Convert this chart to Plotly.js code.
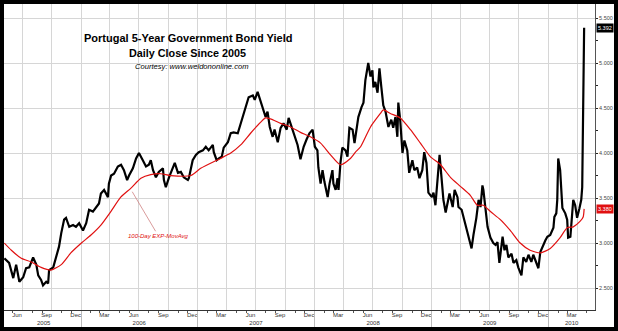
<!DOCTYPE html>
<html><head><meta charset="utf-8">
<script src="https://cdn.plot.ly/plotly-3.0.1.min.js"></script>
<style>
html,body{margin:0;padding:0;background:#000;width:618px;height:331px;overflow:hidden;}
#chart{position:absolute;left:4px;top:4px;width:610px;height:323px;background:#fff;}
</style></head><body><div id="chart"></div>
<script>
// Portugal 5-Year Government Bond Yield, daily close
const yieldDates = ['2005-05-06','2005-05-21','2005-06-03','2005-06-12','2005-06-22','2005-07-04','2005-07-13','2005-07-23','2005-08-04','2005-08-14','2005-08-20','2005-08-29','2005-09-04','2005-09-14','2005-09-20','2005-09-23','2005-10-06','2005-10-15','2005-10-24','2005-10-31','2005-11-09','2005-11-15','2005-11-25','2005-12-07','2005-12-16','2005-12-26',
'2006-01-07','2006-01-17','2006-01-26','2006-02-07','2006-02-17','2006-02-26','2006-03-04','2006-03-14','2006-03-26','2006-03-29','2006-04-05','2006-04-14','2006-04-26','2006-05-06','2006-05-15','2006-05-25','2006-05-31','2006-06-12','2006-06-22','2006-07-01','2006-07-13','2006-07-23','2006-08-01','2006-08-07','2006-08-14','2006-08-23','2006-09-01','2006-09-14','2006-09-17','2006-09-23','2006-10-03','2006-10-15','2006-10-21','2006-10-31','2006-11-09','2006-11-18','2006-12-01','2006-12-04','2006-12-16','2006-12-26',
'2007-01-04','2007-01-17','2007-01-26','2007-02-04','2007-02-17','2007-02-20','2007-03-01','2007-03-08','2007-03-17','2007-03-23','2007-04-05','2007-04-14','2007-04-23','2007-05-06','2007-05-12','2007-05-21','2007-05-31','2007-06-09','2007-06-22','2007-06-28','2007-07-07','2007-07-13','2007-07-23','2007-08-01','2007-08-07','2007-08-14','2007-08-23','2007-08-29','2007-09-08','2007-09-17','2007-09-26','2007-10-06','2007-10-12','2007-10-24','2007-10-31','2007-11-09','2007-11-18','2007-11-28','2007-12-07','2007-12-16','2007-12-26',
'2008-01-02','2008-01-10','2008-01-13','2008-01-20','2008-01-26','2008-02-01','2008-02-11','2008-02-17','2008-02-26','2008-02-29','2008-03-07','2008-03-13','2008-03-16','2008-03-22','2008-03-28','2008-04-07','2008-04-13','2008-04-19','2008-04-29','2008-05-05','2008-05-11','2008-05-17','2008-05-27','2008-06-02','2008-06-08','2008-06-14','2008-06-17','2008-06-24','2008-06-30','2008-07-03','2008-07-09','2008-07-16','2008-07-22','2008-07-28','2008-08-03','2008-08-10','2008-08-16','2008-08-19','2008-08-28','2008-09-03','2008-09-10','2008-09-16','2008-09-19','2008-09-25','2008-10-02','2008-10-08','2008-10-17','2008-10-23','2008-11-02','2008-11-08','2008-11-17','2008-11-24','2008-12-03','2008-12-09','2008-12-16','2008-12-22',
'2009-01-02','2009-01-07','2009-01-13','2009-01-20','2009-01-26','2009-02-01','2009-02-07','2009-02-14','2009-02-20','2009-02-26','2009-03-08','2009-03-14','2009-03-23','2009-03-26','2009-04-05','2009-04-11','2009-04-20','2009-04-26','2009-05-06','2009-05-12','2009-05-21','2009-05-28','2009-06-03','2009-06-09','2009-06-12','2009-06-18','2009-06-25','2009-07-04','2009-07-13','2009-07-20','2009-07-26','2009-08-01','2009-08-11','2009-08-17','2009-08-23','2009-08-29','2009-09-08','2009-09-14','2009-09-23','2009-09-29','2009-10-09','2009-10-15','2009-10-24','2009-10-31','2009-11-09','2009-11-15','2009-11-25','2009-12-01','2009-12-07','2009-12-16','2009-12-23','2009-12-29',
'2010-01-07','2010-01-17','2010-01-20','2010-01-26','2010-01-29','2010-02-01','2010-02-07','2010-02-14','2010-02-17','2010-02-23','2010-03-01','2010-03-04','2010-03-11','2010-03-17','2010-03-20','2010-03-26','2010-04-01','2010-04-08','2010-04-14','2010-04-17','2010-04-20','2010-04-23'];
const yieldValues = [2.83,2.78,2.61,2.76,2.57,2.62,2.72,2.73,2.84,2.76,2.64,2.59,2.53,2.57,2.55,2.70,2.73,2.85,2.96,3.11,3.26,3.28,3.18,3.20,3.18,3.22,
3.14,3.22,3.37,3.35,3.40,3.44,3.55,3.59,3.51,3.66,3.75,3.77,3.85,3.87,3.81,3.70,3.75,3.83,3.94,4.00,3.92,3.85,3.87,3.92,3.81,3.73,3.79,3.83,3.70,3.62,3.73,3.83,3.89,3.78,3.79,3.73,3.70,3.72,3.92,3.98,
4.01,4.03,4.07,4.03,4.09,4.01,3.92,3.94,3.96,4.06,4.12,4.22,4.23,4.22,4.29,4.39,4.50,4.62,4.64,4.59,4.68,4.61,4.50,4.40,4.46,4.29,4.18,4.26,4.12,4.28,4.33,4.26,4.39,4.26,4.17,4.09,3.93,4.07,4.15,4.22,4.26,
4.07,4.03,3.84,3.66,3.81,3.68,3.51,3.66,3.81,3.66,3.59,3.72,3.59,3.89,4.06,4.03,3.96,4.28,4.26,4.11,4.29,4.40,4.51,4.56,4.81,4.96,5.00,4.85,4.92,4.73,4.79,4.67,4.94,4.73,4.53,4.46,4.33,4.29,4.37,4.28,4.40,4.18,4.56,4.36,4.00,4.14,4.03,3.78,3.92,3.81,3.84,3.72,3.81,4.01,3.89,3.56,
3.51,3.56,3.42,3.78,3.98,3.73,3.48,3.34,3.44,3.55,3.40,3.59,3.51,3.40,3.37,3.29,3.18,3.09,2.94,3.09,3.28,3.48,3.40,3.64,3.59,3.40,3.18,3.06,3.00,2.98,3.01,2.78,3.07,2.92,2.98,2.84,2.88,2.78,2.81,2.73,2.64,2.84,2.79,2.87,2.79,2.87,2.78,2.72,2.90,2.98,3.03,3.07,
3.09,3.17,3.29,3.33,3.48,3.94,3.81,3.39,3.37,3.33,3.26,3.06,3.07,3.40,3.48,3.42,3.28,3.38,3.48,3.62,4.28,5.392];

// 100-Day exponential moving average
const emaDates = ['2005-05-06','2005-05-28','2005-06-28','2005-07-29','2005-08-29','2005-09-29','2005-10-31','2005-11-30','2006-01-02','2006-02-01','2006-03-04','2006-04-04','2006-05-05','2006-06-06','2006-07-07','2006-08-07','2006-09-07','2006-10-08','2006-12-10','2007-01-10','2007-03-13','2007-04-14','2007-05-15','2007-06-15','2007-07-16','2007-08-01','2007-08-16','2007-09-17','2007-10-18','2007-11-18','2007-12-19','2008-01-20','2008-02-20','2008-03-22','2008-04-22','2008-05-08','2008-05-24','2008-06-24','2008-07-25','2008-08-03','2008-08-25','2008-09-25','2008-10-27','2008-11-27','2008-12-28','2009-01-29','2009-03-01','2009-04-01','2009-05-02','2009-05-24','2009-06-12','2009-07-04','2009-08-04','2009-09-04','2009-10-05','2009-11-05','2009-12-07','2010-01-07','2010-02-07','2010-03-01','2010-03-20','2010-04-10','2010-04-20','2010-04-23'];
const emaValues = [3.00,2.92,2.83,2.79,2.73,2.70,2.76,2.89,3.00,3.09,3.20,3.35,3.51,3.61,3.72,3.76,3.77,3.75,3.75,3.83,3.94,4.00,4.09,4.22,4.34,4.39,4.38,4.33,4.29,4.23,4.18,4.11,3.98,3.87,3.94,4.01,4.07,4.29,4.44,4.48,4.44,4.39,4.26,4.11,3.96,3.87,3.73,3.63,3.53,3.42,3.42,3.35,3.26,3.14,3.00,2.92,2.89,2.94,3.06,3.17,3.18,3.24,3.29,3.38];

// axis labels
const monthTickDates = ['2005-06-15','2005-09-15','2005-12-15','2006-03-15','2006-06-15','2006-09-15','2006-12-15','2007-03-15','2007-06-15','2007-09-15','2007-12-15','2008-03-15','2008-06-15','2008-09-15','2008-12-15','2009-03-15','2009-06-15','2009-09-15','2009-12-15','2010-03-15'];
const monthTickText = ['Jun','Sep','Dec','Mar','Jun','Sep','Dec','Mar','Jun','Sep','Dec','Mar','Jun','Sep','Dec','Mar','Jun','Sep','Dec','Mar'];
const yearTickDates = ['2005-09-06','2006-07-02','2007-07-02','2008-07-02','2009-07-02','2010-03-15'];
const yearTickText = ['2005','2006','2007','2008','2009','2010'];
const yearStartDates = ['2006-01-01','2007-01-01','2008-01-01','2009-01-01','2010-01-01'];

const FONT = 'Liberation Sans, Arial, sans-serif';
const xRange = ['2005-05-05','2010-05-27'];
const yRange = [2.256, 5.656];
const GRID = '#d6d6d6';

const traces = [
  {x: yieldDates, y: yieldValues, type:'scatter', mode:'lines', line:{color:'#000', width:2.2}, hoverinfo:'skip'},
  {x: emaDates, y: emaValues, type:'scatter', mode:'lines', line:{color:'#e01010', width:1.2, shape:'spline', smoothing:0.6}, hoverinfo:'skip'},
  {x: [], y: [], xaxis:'x2', yaxis:'y', type:'scatter', hoverinfo:'skip'},
  {x: [], y: [], xaxis:'x3', yaxis:'y', type:'scatter', hoverinfo:'skip'},
  {x: [], y: [], xaxis:'x4', yaxis:'y', type:'scatter', hoverinfo:'skip'}
];

const lastYield = yieldValues[yieldValues.length-1];
const lastEma = emaValues[emaValues.length-1];

const layout = {
  width:610, height:323,
  margin:{l:0, r:19, t:0, b:17},
  paper_bgcolor:'#fff', plot_bgcolor:'#fff', showlegend:false,
  font:{family:FONT, size:6, color:'#333'},
  xaxis:{type:'date', range:xRange, tickmode:'linear', dtick:'M3', tick0:'2005-01-01',
         showgrid:true, gridcolor:GRID, gridwidth:1, showticklabels:false, ticks:'',
         showline:true, linecolor:'#333', linewidth:1, zeroline:false,
         minor:{dtick:'M1', tick0:'2005-01-01', ticks:'outside', ticklen:2, tickcolor:'#555', showgrid:false}},
  xaxis2:{type:'date', overlaying:'x', anchor:'y', side:'bottom', range:xRange,
          tickmode:'array', tickvals:monthTickDates, ticktext:monthTickText,
          ticks:'', showgrid:false, showline:false, zeroline:false,
          tickfont:{family:FONT, size:6, color:'#333'}},
  xaxis3:{type:'date', overlaying:'x', anchor:'y', side:'bottom', range:xRange,
          tickmode:'array', tickvals:yearTickDates, ticktext:yearTickText,
          ticks:'', showgrid:false, showline:false, zeroline:false, ticklabelstandoff:8,
          tickfont:{family:FONT, size:6, color:'#333'}},
  xaxis4:{type:'date', overlaying:'x', anchor:'y', side:'bottom', range:xRange,
          tickmode:'array', tickvals:yearStartDates, showticklabels:false,
          ticks:'outside', ticklen:17, tickcolor:'#bbb', tickwidth:1,
          showgrid:false, showline:false, zeroline:false},
  yaxis:{side:'right', range:yRange, tickmode:'linear', tick0:2.5, dtick:0.5, tickformat:'.3f',
         ticks:'outside', ticklen:2, tickcolor:'#222', tickwidth:1,
         showline:true, linecolor:'#555', linewidth:1, showgrid:true, gridcolor:GRID, zeroline:false,
         tickfont:{family:FONT, size:5.5, color:'#444'},
         minor:{dtick:0.25, tick0:2.5, ticks:'outside', ticklen:2, tickcolor:'#222', showgrid:false}},
  annotations:[
    {xref:'paper', yref:'paper', x:0.311, y:0.888, xanchor:'center', yanchor:'middle', showarrow:false,
     text:'<b>Portugal 5-Year Government Bond Yield</b>', font:{family:FONT, size:11, color:'#000'}},
    {xref:'paper', yref:'paper', x:0.311, y:0.840, xanchor:'center', yanchor:'middle', showarrow:false,
     text:'<b>Daily Close Since 2005</b>', font:{family:FONT, size:10.8, color:'#000'}},
    {xref:'paper', yref:'paper', x:0.318, y:0.797, xanchor:'center', yanchor:'middle', showarrow:false,
     text:'<i>Courtesy: www.weldononline.com</i>', font:{family:FONT, size:7.6, color:'#000'}},
    {xref:'x', yref:'y', x:'2006-06-10', y:3.57, showarrow:true, arrowhead:0, arrowwidth:0.7, arrowcolor:'#c87070',
     ax:26, ay:44, text:'<i>100-Day EXP-MovAvg</i>', font:{family:FONT, size:6, color:'#e01010'}},
    {xref:'paper', yref:'y', x:1, y:lastYield, xanchor:'left', yanchor:'middle', xshift:1, showarrow:false,
     text:lastYield.toFixed(3), bgcolor:'#000', borderpad:1, font:{family:FONT, size:5.5, color:'#fff'}},
    {xref:'paper', yref:'y', x:1, y:lastEma, xanchor:'left', yanchor:'middle', xshift:1, showarrow:false,
     text:lastEma.toFixed(3), bgcolor:'#e01010', borderpad:1, font:{family:FONT, size:5.5, color:'#fff'}}
  ]
};

Plotly.newPlot('chart', traces, layout, {staticPlot:true, displayModeBar:false});
</script></body></html>
